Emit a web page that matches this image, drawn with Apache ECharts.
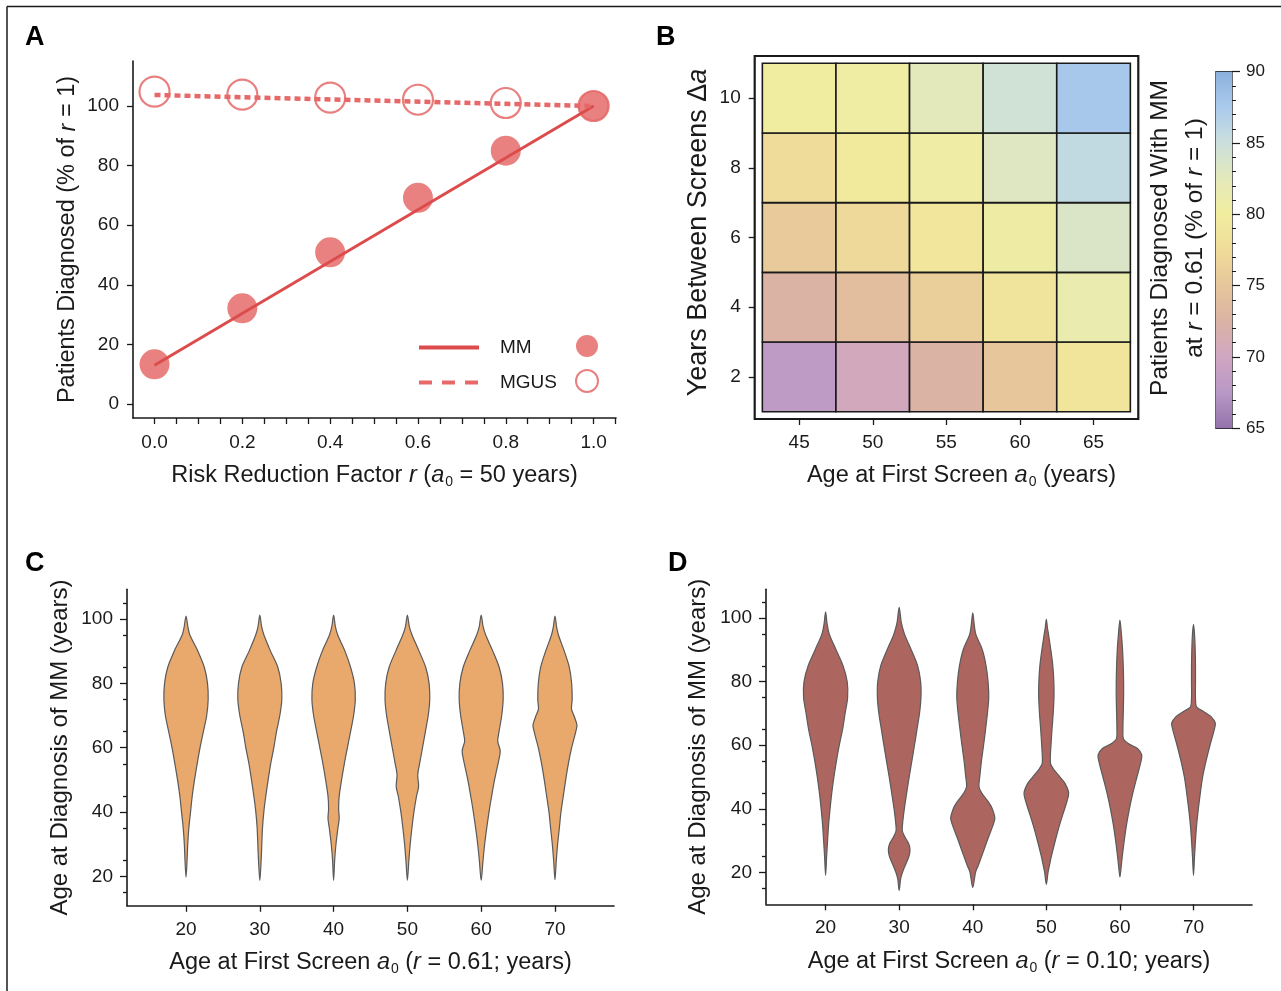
<!DOCTYPE html>
<html><head><meta charset="utf-8">
<script src="https://cdn.jsdelivr.net/npm/echarts@6/dist/echarts.min.js"></script>
<style>html,body{margin:0;padding:0;background:#fff}#c{width:1281px;height:991px}</style>
</head><body><div id="c"></div><script>
const SANS = "'Liberation Sans', Arial, Helvetica, sans-serif";
const INK = '#1a1a1a';

// ---------- Panel A data ----------
const riskFactors = [0, 0.2, 0.4, 0.6, 0.8, 1.0];
const mmDiagnosed = [13.3, 32.1, 50.9, 69.2, 85.0, 100.0];
const mgusDiagnosed = [104.8, 103.8, 102.8, 102.1, 101.0, 100.0];
const fitEnds = [0, 1];
const mmFit = [13.0, 100.0];
const mgusFit = [103.7, 100.0];
const riskTickLabels = [0, 0.2, 0.4, 0.6, 0.8, 1.0];
const riskTicks = [0, 0.05, 0.1, 0.15, 0.2, 0.25, 0.3, 0.35, 0.4, 0.45, 0.5, 0.55, 0.6, 0.65, 0.7, 0.75, 0.8, 0.85, 0.9, 0.95, 1.0, 1.05];
const pctTicks = [0, 20, 40, 60, 80, 100];

// ---------- Panel B data ----------
const firstScreenAges = [45, 50, 55, 60, 65];
const screenGaps = [2, 4, 6, 8, 10];
const diagnosedGap2 = [68.0, 70.5, 72.5, 75.0, 78.8];
const diagnosedGap4 = [72.5, 74.0, 76.0, 78.6, 81.5];
const diagnosedGap6 = [75.5, 77.0, 79.0, 80.5, 83.5];
const diagnosedGap8 = [77.5, 79.5, 80.6, 83.0, 85.8];
const diagnosedGap10 = [80.2, 80.4, 82.5, 84.5, 87.8];
const colorbarTicks = [65, 70, 75, 80, 85, 90];
const colormap = ['#9373ab', '#b898c6', '#d0a6c2', '#dbb3a4', '#e7c69b', '#f0dc9a', '#f1ed9e', '#e4e9bb', '#cbdfdc', '#abcbed', '#8cb0dd'];

// ---------- Panels C / D data ([age at diagnosis, half width in x units]) ----------
const violinAges = [20, 30, 40, 50, 60, 70];
const diagAgeTicks = [20, 40, 60, 80, 100];
const diagAgeMinor = [15, 25, 35, 45, 55, 65, 75, 85, 95, 105];

const violinC20 = [[100.9,0],[97.3,0.27],[95,0.52],[90,1.6],[85,2.48],[80,2.91],[75,3.0],[70,2.8],[65,2.35],[60,1.9],[55,1.51],[50,1.15],[45,0.84],[40,0.61],[35,0.38],[30,0.23],[25,0.14],[19.8,0]];
const violinC30 = [[101.2,0],[97.5,0.25],[95,0.56],[90,1.45],[85,2.44],[80,2.89],[75,2.98],[70,2.71],[65,2.26],[60,1.9],[55,1.47],[50,1.13],[45,0.81],[40,0.54],[35,0.36],[30,0.27],[25,0.18],[18.8,0]];
const violinC40 = [[101.2,0],[97.5,0.25],[95,0.56],[90,1.54],[85,2.3],[80,2.82],[75,2.94],[70,2.71],[65,2.3],[60,1.87],[55,1.45],[50,1.08],[45,0.76],[41,0.68],[38,0.76],[35,0.58],[30,0.32],[25,0.14],[18.8,0]];
const violinC50 = [[101.2,0],[97.5,0.27],[95,0.63],[90,1.58],[85,2.48],[80,2.94],[75,3.03],[70,2.82],[65,2.44],[60,2.05],[55,1.65],[51.5,1.4],[48,1.52],[45,1.24],[40,0.88],[35,0.61],[30,0.38],[25,0.2],[18.8,0]];
const violinC60 = [[101.2,0],[97.5,0.27],[95,0.61],[90,1.58],[85,2.44],[80,2.89],[75,2.98],[70,2.78],[65,2.42],[62,2.24],[59,2.58],[56,2.37],[55,2.28],[50,1.81],[45,1.42],[40,1.06],[35,0.75],[30,0.47],[25,0.25],[18.8,0]];
const violinC70 = [[100.9,0],[97.5,0.22],[95,0.47],[90,1.26],[85,1.94],[80,2.26],[75,2.33],[72,2.24],[70,2.57],[67,2.98],[65,2.82],[60,2.26],[55,1.81],[50,1.45],[45,1.13],[40,0.81],[35,0.59],[30,0.36],[25,0.18],[19,0]];

const violinD20 = [[102,0],[98,0.22],[95,0.5],[90,1.43],[85,2.38],[80,2.94],[75,2.99],[70,2.65],[65,2.31],[60,1.86],[55,1.47],[50,1.13],[45,0.84],[40,0.61],[35,0.41],[30,0.27],[25,0.14],[19,0]];
const violinD30 = [[103.4,0],[98.5,0.3],[95,0.72],[90,1.65],[85,2.51],[80,2.92],[75,2.96],[70,2.76],[65,2.42],[60,2.08],[55,1.72],[50,1.36],[45,1.02],[40,0.7],[35,0.45],[33,0.43],[31,0.8],[29,1.3],[27,1.47],[25,1.33],[22,0.79],[20,0.45],[18,0.2],[14.3,0]];
const violinD40 = [[101.7,0],[98,0.2],[95,0.41],[90,1.31],[85,1.81],[80,2.08],[75,2.17],[70,1.99],[65,1.74],[60,1.47],[55,1.18],[50,0.95],[47,0.84],[45,1.2],[42,2.17],[40,2.65],[37,3.0],[35,2.78],[30,1.97],[25,1.2],[22,0.72],[20,0.38],[15.2,0]];
const violinD50 = [[99.6,0],[97,0.15],[95,0.29],[90,0.61],[85,0.88],[80,1.02],[75,1.04],[70,0.93],[65,0.77],[60,0.63],[56,0.54],[54,0.59],[52,1.13],[50,1.86],[48,2.53],[45,3.03],[42,2.76],[40,2.49],[35,1.81],[30,1.22],[25,0.68],[22,0.41],[20,0.23],[16.2,0]];
const violinD60 = [[99.4,0],[95,0.2],[90,0.36],[85,0.45],[80,0.5],[75,0.5],[70,0.45],[65,0.41],[62,0.48],[60.5,1.18],[59,2.38],[57,2.96],[55,2.87],[50,2.31],[45,1.76],[40,1.29],[35,0.9],[30,0.59],[25,0.32],[22,0.18],[18.5,0]];
const violinD70 = [[98.1,0],[95,0.14],[90,0.23],[85,0.27],[80,0.27],[75,0.27],[72,0.43],[70.5,1.47],[69,2.38],[67,2.96],[65,2.83],[60,2.24],[55,1.7],[50,1.24],[45,0.93],[40,0.66],[35,0.43],[30,0.27],[25,0.14],[19,0]];

const violinsC = [violinC20, violinC30, violinC40, violinC50, violinC60, violinC70];
const violinsD = [violinD20, violinD30, violinD40, violinD50, violinD60, violinD70];

// ---------- helpers ----------
const heatRows = [diagnosedGap2, diagnosedGap4, diagnosedGap6, diagnosedGap8, diagnosedGap10];
const heatData = [];
screenGaps.forEach((g, r) => firstScreenAges.forEach((a, c) => heatData.push([a, g, heatRows[r][c]])));
const halfAge = (firstScreenAges[1] - firstScreenAges[0]) / 2;
const halfGap = (screenGaps[1] - screenGaps[0]) / 2;

const xRich = {
  n: {fontFamily: SANS, fontSize: 23.5, color: INK},
  i: {fontFamily: SANS, fontSize: 23.5, fontStyle: 'italic', color: INK},
  s: {fontFamily: SANS, fontSize: 14, color: INK, padding: [13, 0, 0, 1]}
};
const yRich = {
  n: {fontFamily: SANS, fontSize: 23.5, color: INK},
  i: {fontFamily: SANS, fontSize: 23.5, fontStyle: 'italic', color: INK}
};
const axLine = {show: true, onZero: false, lineStyle: {color: INK, width: 1.6}};
const noLine = {show: false, onZero: false};
const lbl = (o) => Object.assign({color: INK, fontFamily: SANS, fontSize: 19}, o || {});
const tck = (o) => Object.assign({show: true, length: 6, lineStyle: {color: INK, width: 1.3}}, o || {});

function violinRenderer(profiles, fill) {
  return function (params, api) {
    const cx = api.value(0);
    const prof = profiles[params.dataIndex];
    const left = prof.map(p => api.coord([cx - p[1], p[0]]));
    const right = prof.slice(1, -1).reverse().map(p => api.coord([cx + p[1], p[0]]));
    return {
      type: 'polygon',
      shape: {points: left.concat(right), smooth: 0.3},
      style: {fill: fill, stroke: '#5a5a5a', lineWidth: 1.2}
    };
  };
}

const chart = echarts.init(document.getElementById('c'), null, {renderer: 'canvas'});
const option = {
  animation: false,
  backgroundColor: '#fff',
  grid: [
    {left: 133, top: 61, width: 483, height: 357},
    {left: 754.7, top: 56, width: 383.6, height: 363, show: true, borderColor: INK, borderWidth: 2.2, backgroundColor: 'transparent'},
    {left: 1216, top: 71.7, width: 16, height: 356.6, show: true, borderColor: INK, borderWidth: 1.3, backgroundColor: 'transparent'},
    {left: 127, top: 589.3, width: 487, height: 316.5},
    {left: 766, top: 589.3, width: 486, height: 315}
  ],
  xAxis: [
    {type: 'value', gridIndex: 0, min: -0.049, max: 1.051, axisLine: axLine,
      axisTick: tck({customValues: riskTicks}),
      axisLabel: lbl({margin: 15, customValues: riskTickLabels, formatter: v => v.toFixed(1)}),
      splitLine: {show: false},
      name: '{n|Risk Reduction Factor }{i|r}{n| (}{i|a}{s|0}{n| = 50 years)}',
      nameLocation: 'middle', nameGap: 44, nameTextStyle: {rich: xRich}},
    {type: 'value', gridIndex: 1, min: 41.98, max: 68.04, axisLine: noLine,
      axisTick: tck({customValues: firstScreenAges}),
      axisLabel: lbl({margin: 14, customValues: firstScreenAges}),
      splitLine: {show: false},
      name: '{n|Age at First Screen }{i|a}{s|0}{n| (years)}',
      nameLocation: 'middle', nameGap: 43, nameTextStyle: {rich: xRich, padding: [0, 0, 0, 30]}},
    {type: 'value', gridIndex: 2, min: 0, max: 1, show: false},
    {type: 'value', gridIndex: 3, min: 12, max: 78, axisLine: axLine,
      axisTick: tck({customValues: violinAges}),
      axisLabel: lbl({margin: 14, customValues: violinAges}),
      splitLine: {show: false},
      name: '{n|Age at First Screen }{i|a}{s|0}{n| (}{i|r}{n| = 0.61; years)}',
      nameLocation: 'middle', nameGap: 43, nameTextStyle: {rich: xRich}},
    {type: 'value', gridIndex: 4, min: 11.9, max: 77.95, axisLine: axLine,
      axisTick: tck({customValues: violinAges}),
      axisLabel: lbl({margin: 14, customValues: violinAges}),
      splitLine: {show: false},
      name: '{n|Age at First Screen }{i|a}{s|0}{n| (}{i|r}{n| = 0.10; years)}',
      nameLocation: 'middle', nameGap: 44, nameTextStyle: {rich: xRich}}
  ],
  yAxis: [
    {type: 'value', gridIndex: 0, min: -4.7, max: 115.1, axisLine: axLine,
      axisTick: tck({customValues: pctTicks}),
      axisLabel: lbl({margin: 14, customValues: pctTicks}),
      splitLine: {show: false},
      name: '{n|Patients Diagnosed (% of }{i|r}{n| = 1)}',
      nameLocation: 'middle', nameGap: 53, nameTextStyle: {rich: yRich}},
    {type: 'value', gridIndex: 1, min: 0.79, max: 11.21, axisLine: noLine,
      axisTick: tck({customValues: screenGaps}),
      axisLabel: lbl({margin: 14, customValues: screenGaps}),
      splitLine: {show: false},
      name: '{n|Years Between Screens Δ}{i|a}',
      nameLocation: 'middle', nameGap: 43,
      nameTextStyle: {padding: [0, 0, 0, 10], rich: {n: {fontFamily: SANS, fontSize: 27, color: INK}, i: {fontFamily: SANS, fontSize: 27, fontStyle: 'italic', color: INK}}}},
    {type: 'value', gridIndex: 2, position: 'right', min: 65, max: 90, interval: 5,
      axisLine: noLine,
      axisTick: {show: true, length: 8, lineStyle: {color: INK, width: 1.2}},
      minorTick: {show: true, splitNumber: 5, length: 4, lineStyle: {color: INK, width: 1}},
      axisLabel: lbl({margin: 14, fontSize: 17}),
      splitLine: {show: false}},
    {type: 'value', gridIndex: 2, position: 'left', min: 65, max: 90,
      axisLine: noLine, axisTick: {show: false}, axisLabel: {show: false}, splitLine: {show: false},
      name: '{n|Patients Diagnosed With MM}\n{n|at }{i|r}{n| = 0.61 (% of }{i|r}{n| = 1)}',
      nameLocation: 'middle', nameGap: 3,
      nameTextStyle: {padding: [0, 0, 0, 24], rich: {n: {fontFamily: SANS, fontSize: 24.5, color: INK, lineHeight: 35}, i: {fontFamily: SANS, fontSize: 24.5, fontStyle: 'italic', color: INK, lineHeight: 35}}}},
    {type: 'value', gridIndex: 3, min: 10.9, max: 109.2, axisLine: axLine,
      axisTick: tck({length: 7, customValues: diagAgeTicks}),
      axisLabel: lbl({margin: 14, customValues: diagAgeTicks}),
      splitLine: {show: false},
      name: 'Age at Diagnosis of MM (years)',
      nameLocation: 'middle', nameGap: 55, nameTextStyle: {fontFamily: SANS, fontSize: 24, color: INK}},
    {type: 'value', gridIndex: 3, position: 'left', min: 10.9, max: 109.2, axisLine: noLine,
      axisTick: tck({length: 4, customValues: diagAgeMinor}), axisLabel: {show: false}, splitLine: {show: false}},
    {type: 'value', gridIndex: 4, min: 9.92, max: 109.1, axisLine: axLine,
      axisTick: tck({length: 7, customValues: diagAgeTicks}),
      axisLabel: lbl({margin: 14, customValues: diagAgeTicks}),
      splitLine: {show: false},
      name: 'Age at Diagnosis of MM (years)',
      nameLocation: 'middle', nameGap: 56, nameTextStyle: {fontFamily: SANS, fontSize: 24, color: INK}},
    {type: 'value', gridIndex: 4, position: 'left', min: 9.92, max: 109.1, axisLine: noLine,
      axisTick: tck({length: 4, customValues: diagAgeMinor}), axisLabel: {show: false}, splitLine: {show: false}}
  ],
  visualMap: [{
    type: 'continuous', show: false, min: colorbarTicks[0], max: colorbarTicks[colorbarTicks.length - 1],
    dimension: 2, seriesIndex: 4, inRange: {color: colormap}
  }],
  legend: [
    {data: [{name: 'MM'}, {name: 'MGUS', lineStyle: {type: [13, 10]}}],
      left: 412, top: 333, orient: 'vertical', itemWidth: 60, itemHeight: 14, itemGap: 16,
      selectedMode: false, itemStyle: {opacity: 0}, lineStyle: {width: 4},
      textStyle: {fontFamily: SANS, fontSize: 19, color: INK, padding: [0, 0, 0, 16]}},
    {data: ['MM points', 'MGUS points'], formatter: () => '',
      left: 570, top: 330, orient: 'vertical', itemWidth: 22, itemHeight: 22, itemGap: 12,
      selectedMode: false}
  ],
  series: [
    {name: 'MGUS points', type: 'scatter', xAxisIndex: 0, yAxisIndex: 0, symbol: 'circle', symbolSize: 30,
      itemStyle: {color: 'rgba(255,255,255,0)', borderColor: '#e46060', borderWidth: 2.2},
      data: riskFactors.map((r, i) => [r, mgusDiagnosed[i]])},
    {name: 'MM points', type: 'scatter', xAxisIndex: 0, yAxisIndex: 0, symbol: 'circle', symbolSize: 30,
      itemStyle: {color: '#e36262'},
      data: riskFactors.map((r, i) => [r, mmDiagnosed[i]])},
    {name: 'MM', type: 'line', xAxisIndex: 0, yAxisIndex: 0, symbol: 'none',
      lineStyle: {color: '#dc4c4c', width: 3}, itemStyle: {color: '#dc4c4c'},
      data: fitEnds.map((r, i) => [r, mmFit[i]])},
    {name: 'MGUS', type: 'line', xAxisIndex: 0, yAxisIndex: 0, symbol: 'none',
      lineStyle: {color: '#e66868', width: 4.5, type: [6, 4]}, itemStyle: {color: '#e66868'},
      data: fitEnds.map((r, i) => [r, mgusFit[i]])},
    {name: 'heat', type: 'custom', xAxisIndex: 1, yAxisIndex: 1, data: heatData,
      encode: {x: 0, y: 1},
      renderItem: function (params, api) {
        const x = api.value(0), y = api.value(1);
        const p0 = api.coord([x - halfAge, y + halfGap]);
        const p1 = api.coord([x + halfAge, y - halfGap]);
        return {type: 'rect', shape: {x: p0[0], y: p0[1], width: p1[0] - p0[0], height: p1[1] - p0[1]},
          style: {fill: api.visual('color'), stroke: INK, lineWidth: 1.6}};
      }},
    {name: 'colorbar', type: 'custom', xAxisIndex: 2, yAxisIndex: 2,
      data: [[0, colorbarTicks[0], colorbarTicks[colorbarTicks.length - 1]]],
      renderItem: function (params, api) {
        const p0 = api.coord([0, api.value(2)]);
        const p1 = api.coord([1, api.value(1)]);
        const stops = colormap.slice().reverse().map((c, i, a) => ({offset: i / (a.length - 1), color: c}));
        return {type: 'rect', shape: {x: p0[0], y: p0[1], width: p1[0] - p0[0], height: p1[1] - p0[1]},
          style: {fill: new echarts.graphic.LinearGradient(0, 0, 0, 1, stops)}};
      }},
    {name: 'violinsC', type: 'custom', xAxisIndex: 3, yAxisIndex: 4,
      data: violinAges.map(a => [a]), encode: {x: 0},
      renderItem: violinRenderer(violinsC, '#eaa96c')},
    {name: 'violinsD', type: 'custom', xAxisIndex: 4, yAxisIndex: 6,
      data: violinAges.map(a => [a]), encode: {x: 0},
      renderItem: violinRenderer(violinsD, '#ad665f')}
  ],
  graphic: [
    {type: 'line', shape: {x1: 7, y1: 6.5, x2: 1281, y2: 6.5}, style: {stroke: INK, lineWidth: 1.5}},
    {type: 'line', shape: {x1: 7, y1: 6.5, x2: 7, y2: 991}, style: {stroke: INK, lineWidth: 1.5}},
    {type: 'text', left: 25, top: 24, style: {text: 'A', font: 'bold 27px ' + SANS, fill: '#000'}},
    {type: 'text', left: 656, top: 24, style: {text: 'B', font: 'bold 27px ' + SANS, fill: '#000'}},
    {type: 'text', left: 25, top: 550, style: {text: 'C', font: 'bold 27px ' + SANS, fill: '#000'}},
    {type: 'text', left: 668, top: 550, style: {text: 'D', font: 'bold 27px ' + SANS, fill: '#000'}}
  ]
};
chart.setOption(option);
</script></body></html>
